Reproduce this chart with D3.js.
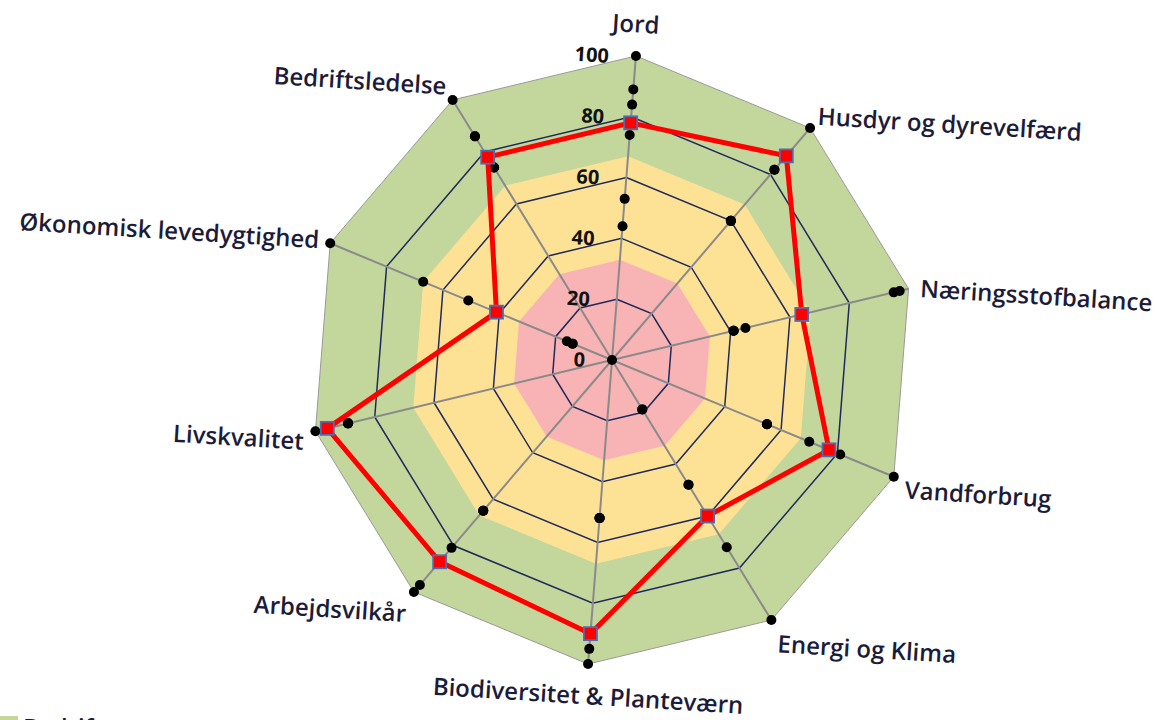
<!DOCTYPE html>
<html>
<head>
<meta charset="utf-8">
<script src="https://cdn.jsdelivr.net/npm/d3@7"></script>
<style>
  body { margin: 0; background: #ffffff; }
  svg { display: block; }
</style>
</head>
<body>
<script>
// Categories (clockwise from the top)
const categories = [
    "Jord", "Husdyr og dyrevelfærd", "Næringsstofbalance", "Vandforbrug",
    "Energi og Klima", "Biodiversitet & Planteværn", "Arbejdsvilkår",
    "Livskvalitet", "Økonomisk levedygtighed", "Bedriftsledelse"
];

// The farm (red line)
const farmValues = [78, 88, 64, 77, 60, 90, 87, 96, 41, 78];

// Other farms (black markers only)
const otherA = [100, 100, 97, 100, 100, 100, 100, 100, 100, 100];
const otherB = [89, 82, 95, 81, 72, 95, 97, 89, 67, 86];
const otherC = [84, 82, 45, 70, 48, 52, 81, 89, 51, 74];
const otherD = [74, 60, 41, 55, 19, 52, 65, 89, 16, 74];
const otherE = [53, 60, 41, 55, 19, 52, 65, 0, 14, 74];
const otherF = [44, 60, 41, 55, 48, 52, 65, 89, 14, 86];

// Score bands (outer limit of each zone)
const bandLimits = [100, 67, 33];
const bandColors = ["#c3d69b", "#fde296", "#f8b3b5"];

// Grid and ticks
const gridLevels = [20, 40, 60, 80];
const tickValues = [0, 20, 40, 60, 80, 100];

const legendLabel = "Bedriften";

// Layout
const width = 1163, height = 720;
const cx = 612, cy = 360;
const radius = 305;
const angleOffset = 4.5 * Math.PI / 180;
const textTilt = 3.5;
const labelFont = "'Open Sans', Lato, sans-serif";

const svg = d3.select("body")
    .append("svg")
    .attr("width", width)
    .attr("height", height);

const g = svg.append("g")
    .attr("transform", "translate(" + cx + "," + cy + ")");

// Set up scales
const rScale = d3.scaleLinear()
    .domain([0, 100])
    .range([0, radius]);

const angleScale = d3.scaleLinear()
    .domain([0, categories.length])
    .range([angleOffset, angleOffset + 2 * Math.PI]);

const pointAt = (i, v) => {
    const a = angleScale(i);
    return [Math.sin(a) * rScale(v), -Math.cos(a) * rScale(v)];
};

const radial = d3.lineRadial()
    .angle((d, i) => angleScale(i))
    .radius(d => rScale(d))
    .curve(d3.curveLinearClosed);

// Coloured zones
g.selectAll(".band")
    .data(bandLimits)
    .enter()
    .append("path")
    .attr("class", "band")
    .attr("d", lim => radial(categories.map(() => lim)))
    .attr("fill", (d, i) => bandColors[i])
    .attr("stroke", (d, i) => i === 0 ? "#9a9a9a" : "none")
    .attr("stroke-width", 1);

// Grid polygons
g.selectAll(".grid")
    .data(gridLevels)
    .enter()
    .append("path")
    .attr("class", "grid")
    .attr("d", lvl => radial(categories.map(() => lvl)))
    .attr("fill", "none")
    .attr("stroke", "#1f2a5c")
    .attr("stroke-width", 1.5);

// Spokes
g.selectAll(".spoke")
    .data(categories)
    .enter()
    .append("line")
    .attr("class", "spoke")
    .attr("x1", 0)
    .attr("y1", 0)
    .attr("x2", (d, i) => pointAt(i, 100)[0])
    .attr("y2", (d, i) => pointAt(i, 100)[1])
    .attr("stroke", "#8a8a8a")
    .attr("stroke-width", 2);

// Black markers for the other farms
const others = [otherA, otherB, otherC, otherD, otherE, otherF];
others.forEach(series => {
    g.selectAll(null)
        .data(series)
        .enter()
        .append("circle")
        .attr("cx", (d, i) => pointAt(i, d)[0])
        .attr("cy", (d, i) => pointAt(i, d)[1])
        .attr("r", 5)
        .attr("fill", "#000000");
});

// Red line for the farm
g.append("path")
    .attr("d", radial(farmValues))
    .attr("fill", "none")
    .attr("stroke", "#ff0000")
    .attr("stroke-width", 5)
    .attr("stroke-linejoin", "miter");

g.selectAll(".farm-marker")
    .data(farmValues)
    .enter()
    .append("rect")
    .attr("class", "farm-marker")
    .attr("x", (d, i) => pointAt(i, d)[0] - 6.5)
    .attr("y", (d, i) => pointAt(i, d)[1] - 6.5)
    .attr("width", 13)
    .attr("height", 13)
    .attr("fill", "#ff0000")
    .attr("stroke", "#4a6fb0")
    .attr("stroke-width", 1.8);

// Tick labels along the first axis
g.selectAll(".tick-label")
    .data(tickValues)
    .enter()
    .append("text")
    .attr("class", "tick-label")
    .attr("x", d => pointAt(0, d)[0] - 27)
    .attr("y", d => pointAt(0, d)[1])
    .attr("dy", "0.35em")
    .attr("text-anchor", "end")
    .attr("transform", d => "rotate(" + textTilt + "," + (pointAt(0, d)[0] - 27) + "," + pointAt(0, d)[1] + ")")
    .style("font-family", labelFont)
    .style("font-weight", "bold")
    .style("font-size", "20px")
    .style("fill", "#111111")
    .text(d => d);

// Category labels
g.selectAll(".cat-label")
    .data(categories)
    .enter()
    .append("text")
    .attr("class", "cat-label")
    .each(function (d, i) {
        const a = angleScale(i);
        const dx = Math.sin(a), dy = -Math.cos(a);
        const end = pointAt(i, 100);
        let x, y, anchor;
        if (Math.abs(dx) < 0.3) {
            x = end[0];
            y = end[1] + dy * 32;
            anchor = "middle";
        } else {
            x = end[0] + dx * 12;
            y = end[1] + dy * 22 + 5;
            anchor = dx > 0 ? "start" : "end";
        }
        d3.select(this)
            .attr("x", x)
            .attr("y", y)
            .attr("dy", "0.35em")
            .attr("text-anchor", anchor)
            .attr("transform", "rotate(" + textTilt + "," + x + "," + y + ")");
    })
    .style("font-family", labelFont)
    .style("font-weight", 600)
    .style("font-size", "24px")
    .style("fill", "#1c1c3a")
    .text(d => d);

// Legend (cut off at the bottom edge, as in the original)
const legend = svg.append("g")
    .attr("transform", "translate(0, 716)");

legend.append("rect")
    .attr("x", 0)
    .attr("y", 0)
    .attr("width", 18)
    .attr("height", 14)
    .attr("fill", bandColors[0]);

legend.append("text")
    .attr("x", 23)
    .attr("y", 20)
    .style("font-family", labelFont)
    .style("font-weight", 600)
    .style("font-size", "24px")
    .style("fill", "#1c1c3a")
    .text(legendLabel);
</script>
</body>
</html>
